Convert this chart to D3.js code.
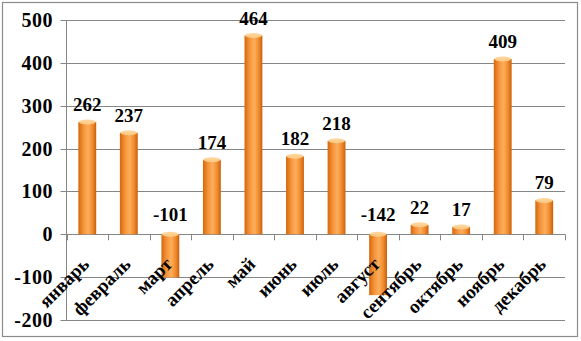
<!DOCTYPE html>
<html><head><meta charset="utf-8">
<script src="https://cdn.jsdelivr.net/npm/d3@7"></script>
<style>body{margin:0;background:#fff}svg{display:block}</style>
</head><body>
<script>
const categories = ["январь","февраль","март","апрель","май","июнь","июль","август","сентябрь","октябрь","ноябрь","декабрь"];
const values = [262,237,-101,174,464,182,218,-142,22,17,409,79];
const yTicks = [-200,-100,0,100,200,300,400,500];

(function(){
const W=581,H=341;
const FONT="'Liberation Serif'";
const svg=d3.select("body").append("svg").attr("width",W).attr("height",H);
const defs=svg.append("defs");
const g1=defs.append("linearGradient").attr("id","barg").attr("x1","0").attr("x2","1").attr("y1","0").attr("y2","0");
[["0%","#d4680c"],["30%","#f7953c"],["55%","#fcae5c"],["80%","#f08a2c"],["100%","#c95f0a"]].forEach(s=>g1.append("stop").attr("offset",s[0]).attr("stop-color",s[1]));

svg.append("rect").attr("x",2.5).attr("y",2.5).attr("width",575).attr("height",334).attr("fill","#fff").attr("stroke","#8c8c8c").attr("stroke-width",1.2);

const pLeft=66.5,pRight=565,pTop=20,pBottom=320;
const x=d3.scaleBand().domain(categories).range([pLeft,pRight]).paddingInner(0.57).paddingOuter(0.285);
const y=d3.scaleLinear().domain([-200,500]).range([pBottom,pTop]);

svg.append("g").selectAll("line").data(yTicks).join("line")
 .attr("x1",pLeft-6).attr("x2",pRight).attr("y1",d=>Math.round(y(d))+0.5).attr("y2",d=>Math.round(y(d))+0.5)
 .attr("stroke","#868686").attr("stroke-width",1);
svg.append("line").attr("x1",pLeft).attr("x2",pLeft).attr("y1",pTop).attr("y2",pBottom).attr("stroke","#868686");

svg.append("g").selectAll("text").data(yTicks).join("text")
 .attr("x",53).attr("y",d=>y(d)).attr("dy","0.35em").attr("text-anchor","end")
 .style("font-family",FONT).style("font-weight","bold").style("font-size","20px").style("letter-spacing","0.5px")
 .text(d=>d);

const bounds=d3.range(categories.length+1).map(i=>pLeft+i*(pRight-pLeft)/categories.length);
svg.append("g").selectAll("line").data(bounds).join("line")
 .attr("x1",d=>Math.round(d)+0.5).attr("x2",d=>Math.round(d)+0.5).attr("y1",y(0)).attr("y2",y(0)+6)
 .attr("stroke","#868686");

const bars=svg.append("g");
categories.forEach((c,i)=>{
  const v=values[i];
  const bx=x(c),bw=x.bandwidth();
  const y0=y(0),y1=y(v);
  bars.append("rect").attr("x",bx).attr("width",bw).attr("y",Math.min(y0,y1)).attr("height",Math.abs(y1-y0))
   .attr("fill","url(#barg)");
  bars.append("ellipse").attr("cx",bx+bw/2).attr("cy",v>=0?y1:y0).attr("rx",bw/2-0.5).attr("ry",2.5)
   .attr("fill","#fdd08f").attr("opacity",0.9);
});

svg.append("g").selectAll("text").data(categories).join("text")
 .attr("text-anchor","middle")
 .attr("x",c=>x(c)+x.bandwidth()/2)
 .attr("y",(c,i)=>values[i]>=0?Math.max(y(values[i])-11,25):y(0)-13)
 .style("font-family",FONT).style("font-weight","bold").style("font-size","19px")
 .text((c,i)=>values[i]);

svg.append("g").selectAll("text").data(categories).join("text")
 .attr("text-anchor","end")
 .attr("transform",c=>`translate(${x(c)+x.bandwidth()/2+3},${y(0)+31}) rotate(-45)`)
 .style("font-family",FONT).style("font-weight","bold").style("font-size","19px")
 .text(c=>c);
})();
</script>
</body></html>
